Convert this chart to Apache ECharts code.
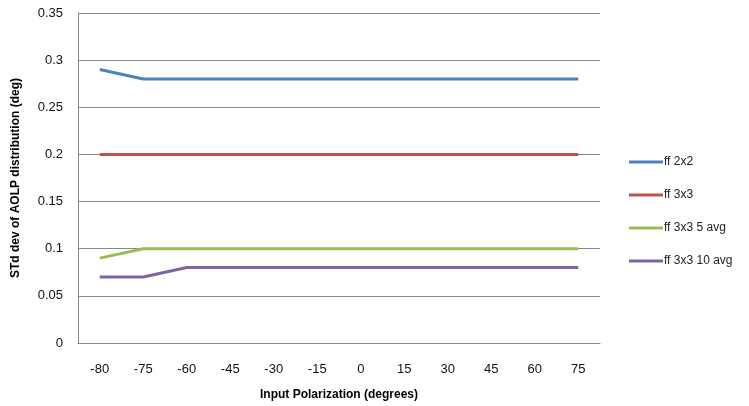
<!DOCTYPE html>
<html><head><meta charset="utf-8">
<script src="https://cdn.jsdelivr.net/npm/echarts@6/dist/echarts.min.js"></script>
<style>html,body{margin:0;padding:0;background:#fff}#c{width:749px;height:406px}</style>
</head><body><div id="c"></div>
<script>
var categories = ['-80','-75','-60','-45','-30','-15','0','15','30','45','60','75'];
var ff2x2 = [0.29,0.28,0.28,0.28,0.28,0.28,0.28,0.28,0.28,0.28,0.28,0.28];
var ff3x3 = [0.2,0.2,0.2,0.2,0.2,0.2,0.2,0.2,0.2,0.2,0.2,0.2];
var ff3x3_5avg = [0.09,0.1,0.1,0.1,0.1,0.1,0.1,0.1,0.1,0.1,0.1,0.1];
var ff3x3_10avg = [0.07,0.07,0.08,0.08,0.08,0.08,0.08,0.08,0.08,0.08,0.08,0.08];
var seriesNames = ['ff 2x2','ff 3x3','ff 3x3 5 avg','ff 3x3 10 avg'];
var colors = ['#4F81BD','#C0504D','#9BBB59','#8064A2'];
var dataSets = [ff2x2, ff3x3, ff3x3_5avg, ff3x3_10avg];
var font = 'Liberation Sans, Arial, sans-serif';
var chart = echarts.init(document.getElementById('c'));
chart.setOption({
  animation:false,
  color: colors,
  grid:{left:78,right:149,top:13,bottom:63},
  legend:{
    orient:'vertical', left:624, top:151, itemGap:21, itemWidth:34, itemHeight:3,
    icon:'rect',
    textStyle:{fontFamily:font,fontSize:12,color:'#222',padding:[0,0,0,-4]},
    data: seriesNames
  },
  xAxis:{
    type:'category', data:categories, boundaryGap:true,
    name:'Input Polarization (degrees)', nameLocation:'middle', nameGap:46,
    nameTextStyle:{fontFamily:font,fontSize:12,fontWeight:'bold',color:'#000'},
    axisLine:{lineStyle:{color:'#888',width:1}},
    axisTick:{show:false},
    axisLabel:{fontFamily:font,fontSize:13,color:'#111',margin:20}
  },
  yAxis:{
    type:'value', min:0, max:0.35, interval:0.05,
    name:'STd dev of AOLP distribution (deg)', nameLocation:'middle', nameGap:56,
    nameTextStyle:{fontFamily:font,fontSize:12,fontWeight:'bold',color:'#000'},
    axisLine:{show:true,lineStyle:{color:'#888',width:1}},
    axisTick:{show:false},
    splitLine:{lineStyle:{color:'#888',width:1}},
    axisLabel:{fontFamily:font,fontSize:13,color:'#111',margin:15,
      formatter:function(v){return String(+v.toFixed(2));}}
  },
  series: dataSets.map(function(d,i){
    return {name:seriesNames[i], type:'line', data:d, symbol:'none',
      lineStyle:{width:3,color:colors[i]}, itemStyle:{color:colors[i]}};
  })
});
</script></body></html>
